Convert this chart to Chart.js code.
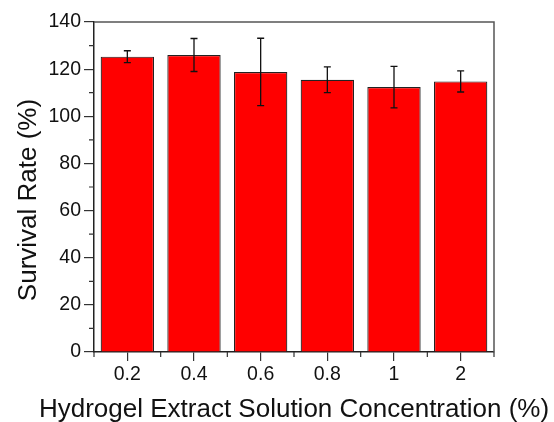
<!DOCTYPE html>
<html>
<head>
<meta charset="utf-8">
<script src="https://cdn.jsdelivr.net/npm/chart.js@4/dist/chart.umd.min.js"></script>
<style>
  html, body { margin: 0; padding: 0; background: #fff; }
  #wrap { width: 554px; height: 422px; }
</style>
</head>
<body>
<div id="wrap"><canvas id="chart"></canvas></div>
<script>
const concentrations = ['0.2', '0.4', '0.6', '0.8', '1', '2'];
const survivalRate = [125.3, 126.0, 118.8, 115.5, 112.4, 114.8];
const survivalErr = [2.5, 7.0, 14.3, 5.5, 8.8, 4.5];
const yMajorTicks = [0, 20, 40, 60, 80, 100, 120, 140];
const xTitle = 'Hydrogel Extract Solution Concentration (%)';
const yTitle = 'Survival Rate (%)';

const fontFamily = '"Liberation Sans", Arial, sans-serif';

// error bars, minor ticks, frame on top/right and the axis titles
const extras = {
    id: 'extras',
    afterDatasetsDraw(chart) {
        const ctx = chart.ctx;
        const x = chart.scales.x, y = chart.scales.y;
        const area = chart.chartArea;
        ctx.save();
        // frame
        ctx.strokeStyle = '#555';
        ctx.lineWidth = 1.5;
        ctx.beginPath();
        ctx.moveTo(area.left, area.top);
        ctx.lineTo(area.right, area.top);
        ctx.lineTo(area.right, area.bottom);
        ctx.stroke();

        // error bars
        ctx.strokeStyle = '#111';
        ctx.lineWidth = 1.3;
        survivalRate.forEach((v, i) => {
            const px = x.getPixelForValue(i);
            const hi = y.getPixelForValue(v + survivalErr[i]);
            const lo = y.getPixelForValue(v - survivalErr[i]);
            ctx.beginPath();
            ctx.moveTo(px, hi); ctx.lineTo(px, lo);
            ctx.moveTo(px - 3.5, hi); ctx.lineTo(px + 3.5, hi);
            ctx.moveTo(px - 3.5, lo); ctx.lineTo(px + 3.5, lo);
            ctx.stroke();
        });

        // minor ticks
        ctx.strokeStyle = '#333';
        ctx.lineWidth = 1.2;
        ctx.beginPath();
        for (let i = 0; i < yMajorTicks.length - 1; i++) {
            const py = y.getPixelForValue((yMajorTicks[i] + yMajorTicks[i + 1]) / 2);
            ctx.moveTo(area.left - 5, py); ctx.lineTo(area.left, py);
        }
        for (let i = 0; i <= concentrations.length; i++) {
            const px = x.getPixelForValue(i - 0.5);
            ctx.moveTo(px, area.bottom); ctx.lineTo(px, area.bottom + 5);
        }
        ctx.stroke();

        // axis titles
        ctx.fillStyle = '#111';
        ctx.font = '26px ' + fontFamily;
        ctx.textAlign = 'center';
        ctx.textBaseline = 'alphabetic';
        ctx.fillText(xTitle, (area.left + area.right) / 2, 417);

        ctx.save();
        ctx.translate(36, 200);
        ctx.rotate(-Math.PI / 2);
        ctx.fillText(yTitle, 0, 0);
        ctx.restore();
        ctx.restore();
    }
};

new Chart(document.getElementById('chart'), {
    type: 'bar',
    data: {
        labels: concentrations,
        datasets: [{
            data: survivalRate,
            backgroundColor: '#ff0000',
            borderColor: '#222',
            borderWidth: 1.2,
            categoryPercentage: 1,
            barPercentage: 0.8
        }]
    },
    options: {
        responsive: true,
        maintainAspectRatio: false,
        animation: false,
        layout: { padding: { top: 22, right: 60, left: 0, bottom: 0 } },
        plugins: {
            legend: { display: false },
            tooltip: { enabled: false }
        },
        scales: {
            x: {
                grid: {
                    offset: false,
                    drawOnChartArea: false,
                    tickLength: 9,
                    color: '#333',
                    lineWidth: 1.2
                },
                border: { color: '#222', width: 1.5 },
                ticks: {
                    color: '#111',
                    padding: 2,
                    font: { family: fontFamily, size: 19.5 }
                },
                afterFit(scale) { scale.height = 70; }
            },
            y: {
                min: 0,
                max: 140,
                grid: {
                    drawOnChartArea: false,
                    tickLength: 10,
                    color: '#333',
                    lineWidth: 1.2
                },
                border: { color: '#222', width: 1.5 },
                ticks: {
                    stepSize: 20,
                    color: '#111',
                    padding: 3,
                    font: { family: fontFamily, size: 19.5 }
                },
                afterFit(scale) { scale.width = 94; }
            }
        }
    },
    plugins: [extras]
});
</script>
</body>
</html>
